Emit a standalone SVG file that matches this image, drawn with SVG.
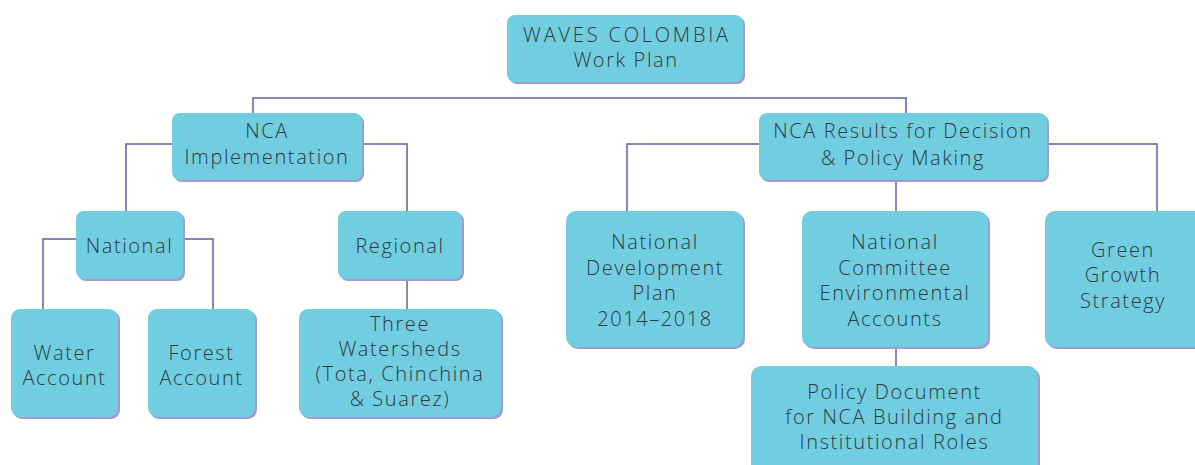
<svg xmlns="http://www.w3.org/2000/svg" width="1195" height="465" viewBox="0 0 1195 465">
<style>
.conn path{fill:none;stroke:#5c5fa8;stroke-width:1.5}
.sh{fill:#9d9bd0}
.bx{fill:#71cde0}
text{font-family:"Open Sans","Liberation Sans",sans-serif;font-weight:300;font-size:20px;letter-spacing:1.6px;fill:#2e3a3f;text-anchor:middle}
.caps{letter-spacing:2.8px}
</style>
<rect width="1195" height="465" fill="#ffffff"/>
<g id="connectors" class="conn">
<path d="M253,113 V98 H906 V113"/>
<path d="M172,144 H126 V211"/>
<path d="M362,144 H407 V211"/>
<path d="M76,239 H43 V309"/>
<path d="M183,239 H213 V309"/>
<path d="M407,279 V309"/>
<path d="M759,144 H627 V211"/>
<path d="M1047,144 H1157 V211"/>
<path d="M896,180 V211"/>
<path d="M896,347 V366"/>
</g>
<g id="n-waves">
<rect class="sh" x="509" y="17" width="236" height="67" rx="8"/>
<rect class="bx" x="507" y="15" width="236" height="67" rx="8"/>
<text class="caps" x="627" y="42">WAVES COLOMBIA</text>
<text x="626" y="67">Work Plan</text>
</g>
<g id="n-nca-impl">
<rect class="sh" x="174" y="115" width="190" height="67" rx="8"/>
<rect class="bx" x="172" y="113" width="190" height="67" rx="8"/>
<text x="267" y="138">NCA</text>
<text x="267" y="164">Implementation</text>
</g>
<g id="n-nca-results">
<rect class="sh" x="761" y="115" width="288" height="67" rx="8"/>
<rect class="bx" x="759" y="113" width="288" height="67" rx="8"/>
<text x="903" y="138">NCA Results for Decision</text>
<text x="903" y="165">&amp; Policy Making</text>
</g>
<g id="n-national">
<rect class="sh" x="78" y="213" width="107" height="68" rx="8"/>
<rect class="bx" x="76" y="211" width="107" height="68" rx="8"/>
<text x="129.5" y="253">National</text>
</g>
<g id="n-regional">
<rect class="sh" x="340" y="213" width="124" height="68" rx="8"/>
<rect class="bx" x="338" y="211" width="124" height="68" rx="8"/>
<text x="400" y="253">Regional</text>
</g>
<g id="n-water">
<rect class="sh" x="13" y="311" width="107" height="108" rx="9"/>
<rect class="bx" x="11" y="309" width="107" height="108" rx="9"/>
<text x="64.5" y="360">Water</text>
<text x="64.5" y="385">Account</text>
</g>
<g id="n-forest">
<rect class="sh" x="150" y="311" width="107" height="108" rx="9"/>
<rect class="bx" x="148" y="309" width="107" height="108" rx="9"/>
<text x="201.5" y="360">Forest</text>
<text x="201.5" y="385">Account</text>
</g>
<g id="n-watersheds">
<rect class="sh" x="301" y="311" width="202" height="108" rx="9"/>
<rect class="bx" x="299" y="309" width="202" height="108" rx="9"/>
<text x="400" y="331">Three</text>
<text x="400" y="356">Watersheds</text>
<text x="400" y="381">(Tota, Chinchina</text>
<text x="400" y="406">&amp; Suarez)</text>
</g>
<g id="n-ndp">
<rect class="sh" x="568" y="213" width="177" height="136" rx="10"/>
<rect class="bx" x="566" y="211" width="177" height="136" rx="10"/>
<text x="655" y="249">National</text>
<text x="655" y="275">Development</text>
<text x="655" y="300">Plan</text>
<text x="655" y="326">2014–2018</text>
</g>
<g id="n-ncea">
<rect class="sh" x="804" y="213" width="186" height="136" rx="10"/>
<rect class="bx" x="802" y="211" width="186" height="136" rx="10"/>
<text x="895" y="249">National</text>
<text x="895" y="275">Committee</text>
<text x="895" y="300">Environmental</text>
<text x="895" y="326">Accounts</text>
</g>
<g id="n-green">
<rect class="sh" x="1047" y="213" width="160" height="136" rx="10"/>
<rect class="bx" x="1045" y="211" width="160" height="136" rx="10"/>
<text x="1123" y="257">Green</text>
<text x="1123" y="282">Growth</text>
<text x="1123" y="308">Strategy</text>
</g>
<g id="n-policy">
<rect class="sh" x="753" y="368" width="287" height="110" rx="10"/>
<rect class="bx" x="751" y="366" width="287" height="110" rx="10"/>
<text x="894.5" y="399">Policy Document</text>
<text x="894.5" y="424">for NCA Building and</text>
<text x="894.5" y="449">Institutional Roles</text>
</g>
</svg>
